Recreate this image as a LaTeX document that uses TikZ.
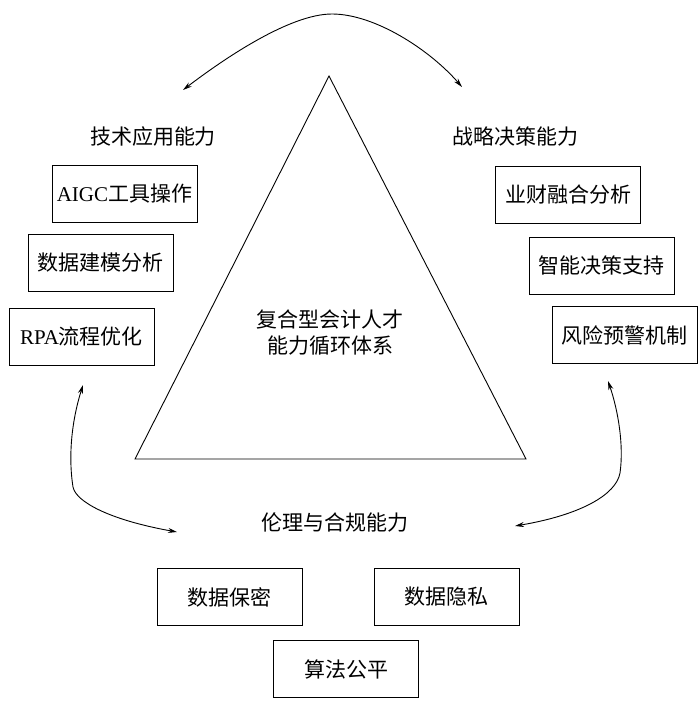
\documentclass[tikz,border=0pt]{standalone}
\usepackage{fontspec}
\setmainfont{Liberation Serif}
\newfontfamily\cjk{Noto Sans CJK SC}
\usetikzlibrary{arrows.meta}

\begin{document}
\begin{tikzpicture}[x=1pt,y=-1pt,line width=0.9pt,
		abox/.style={draw,minimum width=145pt,minimum height=57pt,inner sep=0pt,font=\fontsize{21}{25}\selectfont},
		alabel/.style={inner sep=0pt,font=\fontsize{21}{25}\selectfont\cjk},
		cycarrow/.style={{Stealth[length=9pt,width=5pt]}-{Stealth[length=9pt,width=5pt]}}]
		\useasboundingbox (0,0) rectangle (699,705);
		% triangle
		\coordinate (apex) at (329,76);
		\coordinate (bl) at (135,459);
		\coordinate (br) at (526,459);
		\draw (apex) -- (br) -- (bl) -- cycle;
		\node[alabel,align=center,font=\fontsize{21}{26}\selectfont\cjk] (core) at (330,333) {复合型会计人才\\能力循环体系};
		% three abilities
		\node[alabel] (tech) at (153,137) {技术应用能力};
		\node[alabel] (strat) at (515,137) {战略决策能力};
		\node[alabel] (ethic) at (335,522) {伦理与合规能力};
		\node[abox] (aigc) at (124.5,193.5) {AIGC{\cjk 工具操作}};
		\node[abox] (model) at (100.5,263) {\cjk 数据建模分析};
		\node[abox] (rpa) at (81.5,336.5) {RPA{\cjk 流程优化}};
		\node[abox] (fin) at (568,195) {\cjk 业财融合分析};
		\node[abox] (smart) at (601.5,265.5) {\cjk 智能决策支持};
		\node[abox] (risk) at (624.5,335) {\cjk 风险预警机制};
		\node[abox] (secret) at (229.5,597) {\cjk 数据保密};
		\node[abox] (privacy) at (446.5,597) {\cjk 数据隐私};
		\node[abox] (fair) at (346,669) {\cjk 算法公平};
		% cycle arrows
		\coordinate (t1) at (183,90);
		\coordinate (t2) at (462,87);
		\coordinate (l1) at (83,385);
		\coordinate (l2) at (177,532);
		\coordinate (r1) at (608,381);
		\coordinate (r2) at (515,526);
		\draw[cycarrow] (t1) .. controls (225,58) and (290,14) .. (332,14) .. controls (375,14) and (430,50) .. (t2);
		\draw[cycarrow] (l1) .. controls (72,420) and (68,455) .. (73,487) .. controls (76,502) and (110,520) .. (l2);
		\draw[cycarrow] (r1) .. controls (618,410) and (624,445) .. (620,473) .. controls (616,495) and (580,515) .. (r2);
\end{tikzpicture}
\end{document}
